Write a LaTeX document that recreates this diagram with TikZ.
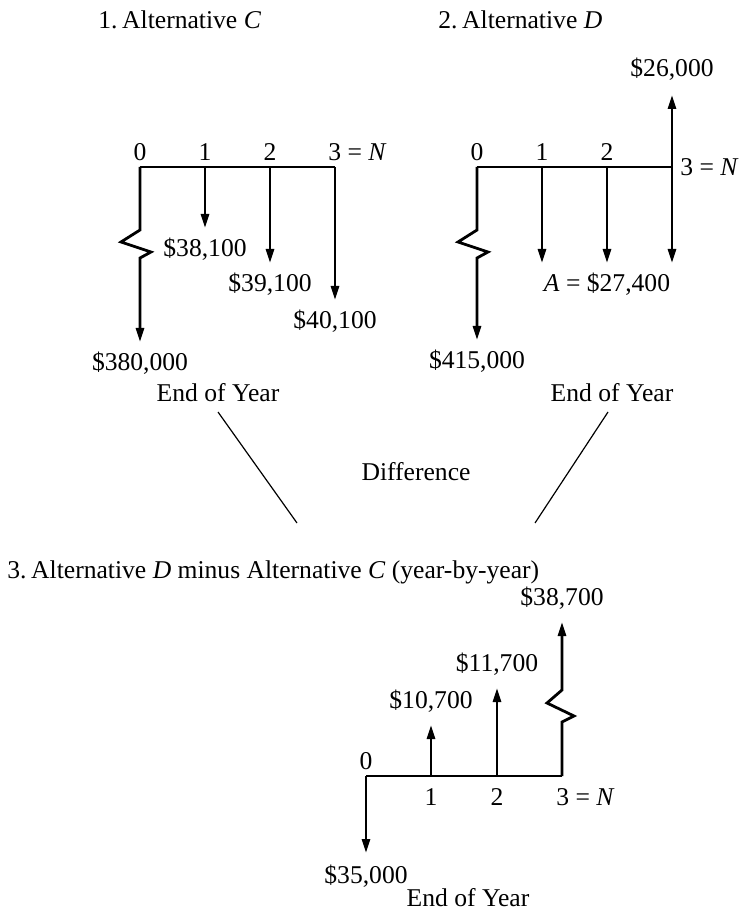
\documentclass[tikz,border=0pt]{standalone}
\usepackage{fontspec}
\setmainfont{Liberation Serif}
\usetikzlibrary{positioning,calc}
\usetikzlibrary{arrows.meta}
\tikzset{
	flow/.style={draw=black,line width=1.4pt,-{Triangle[length=7pt,width=4pt]}},
	timeline/.style={draw=black,line width=1pt},
	link/.style={draw=black,line width=0.6pt},
	txt/.style={font=\fontsize{12.8}{15}\selectfont,inner sep=1pt},
}

\begin{document}
\begin{tikzpicture}[x=0.5pt,y=-0.5pt]
	\useasboundingbox (0,0) rectangle (754,913);
	% 1. alternative C
	\node[txt,anchor=west] (titc) at (96,20) {1.\hspace{0.18em}Alternative \textit{C}};
	\foreach \i/\x in {0/140,1/205,2/270,3/335}
	\coordinate (c\i) at (\x,167);
	\foreach \i/\y in {0/342,1/228,2/263,3/300}
	\coordinate (ct\i) at (c\i |- 0,\y);
	\draw[timeline] (c0) -- (c3);
	\draw[flow] (c0) -- ++(0,63) -- ++(-19,12) -- ++(30,10) -- ++(-11,6) -- (ct0);
	\foreach \i in {1,2,3}
	\draw[flow] (c\i) -- (ct\i);
	\foreach \i in {0,1,2}
	\node[txt,above=2pt of c\i] (cn\i) {\i};
	\node[txt,anchor=base west] (cn3) at (326,161) {3 = \textit{N}};
	\node[txt,below=4pt of ct0] (cv0) {\$380,000};
	\node[txt,below=4pt of ct1] (cv1) {\$38,100};
	\node[txt,below=4pt of ct2] (cv2) {\$39,100};
	\node[txt,below=4pt of ct3] (cv3) {\$40,100};
	\node[txt] (eoyc) at (218,393) {End of Year};
	% 2. alternative D
	\node[txt,anchor=west] (titd) at (436,20) {2.\hspace{0.18em}Alternative \textit{D}};
	\foreach \i/\x in {0/477,1/542,2/607,3/672}
	\coordinate (d\i) at (\x,167);
	\foreach \i/\y in {0/340,1/263,2/263,3/263}
	\coordinate (dt\i) at (d\i |- 0,\y);
	\coordinate (dup) at (672,95);
	\draw[timeline] (d0) -- (d3);
	\draw[flow] (d0) -- ++(0,63) -- ++(-19,12) -- ++(30,10) -- ++(-11,6) -- (dt0);
	\foreach \i in {1,2,3}
	\draw[flow] (d\i) -- (dt\i);
	\draw[flow] (d3) -- (dup);
	\foreach \i in {0,1,2}
	\node[txt,above=2pt of d\i] (dn\i) {\i};
	\node[txt,right=3pt of d3] (dn3) {3 = \textit{N}};
	\node[txt,below=4pt of dt0] (dv0) {\$415,000};
	\node[txt,below=4pt of dt2] (dva) {\textit{A} = \$27,400};
	\node[txt,above=6pt of dup] (dvup) {\$26,000};
	\node[txt] (eoyd) at (612,393) {End of Year};
	% difference
	\coordinate (lc) at (218,412);
	\coordinate (lcend) at (297,523);
	\coordinate (ld) at (608,412);
	\coordinate (ldend) at (535,523);
	\draw[link] (lc) -- (lcend);
	\draw[link] (ld) -- (ldend);
	\node[txt] (diff) at (416,472) {Difference};
	% 3. D minus C
	\node[txt,anchor=west] (tite) at (5,572) {3.\hspace{0.18em}Alternative \textit{D} minus Alternative \textit{C} (year-by-year)};
	\foreach \i/\x in {0/366,1/431,2/497,3/562}
	\coordinate (e\i) at (\x,776);
	\foreach \i/\y in {0/853,1/725,2/688,3/622}
	\coordinate (et\i) at (e\i |- 0,\y);
	\draw[timeline,line width=1.3pt] (e0) -- (e3);
	\draw[flow] (e0) -- (et0);
	\draw[flow] (e1) -- (et1);
	\draw[flow] (e2) -- (et2);
	\draw[flow] (e3) -- ++(0,-54) -- ++(12,-6) -- ++(-27,-13) -- ++(15,-13) -- (et3);
	\node[txt,above=2pt of e0] (en0) {0};
	\foreach \i in {1,2}
	\node[txt,below=5pt of e\i] (en\i) {\i};
	\node[txt,anchor=north west] (en3) at (554,786) {3 = \textit{N}};
	\node[txt,below=5pt of et0] (ev0) {\$35,000};
	\node[txt,above=5pt of et1] (ev1) {\$10,700};
	\node[txt,above=5pt of et2] (ev2) {\$11,700};
	\node[txt,above=5pt of et3] (ev3) {\$38,700};
	\node[txt] (eoye) at (468,898) {End of Year};
\end{tikzpicture}
\end{document}
